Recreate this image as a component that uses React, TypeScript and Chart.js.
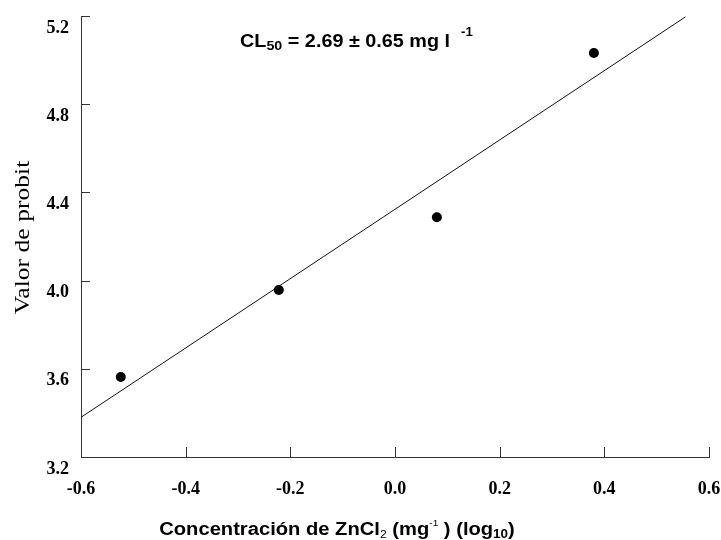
import React, { useEffect, useRef } from "react";
import { Chart, registerables } from "chart.js";

Chart.register(...registerables);

// Observed data (log10 concentration vs probit value)
const logConc = [-0.524, -0.222, 0.08, 0.38];
const probit = [3.563, 3.957, 4.287, 5.032];

// Fitted regression line end points
const fitX = [-0.6, 0.555];
const fitY = [3.38, 5.196];

// Tick labels
const xTickLabels = ["-0.6", "-0.4", "-0.2", "0.0", "0.2", "0.4", "0.6"];
const yTickLabels = ["3.2", "3.6", "4.0", "4.4", "4.8", "5.2"];

const SANS = "'Liberation Sans', Arial, sans-serif";
const SERIF = "'Liberation Serif', 'Times New Roman', serif";

type Seg = { text: string; size: number; weight?: string; dy?: number };

function richWidth(ctx: CanvasRenderingContext2D, segs: Seg[], family: string) {
  let w = 0;
  for (const s of segs) {
    ctx.font = `${s.weight || "bold"} ${s.size}px ${family}`;
    w += ctx.measureText(s.text).width;
  }
  return w;
}

function drawRich(
  ctx: CanvasRenderingContext2D,
  segs: Seg[],
  family: string,
  x: number,
  y: number,
  stretch: number
) {
  ctx.save();
  ctx.translate(x, y);
  ctx.scale(stretch, 1);
  let cx = 0;
  for (const s of segs) {
    ctx.font = `${s.weight || "bold"} ${s.size}px ${family}`;
    ctx.fillText(s.text, cx, s.dy || 0);
    cx += ctx.measureText(s.text).width;
  }
  ctx.restore();
}

const xTitle: Seg[] = [
  { text: "Concentración de ZnCl", size: 18 },
  { text: "2", size: 11, weight: "normal", dy: 3 },
  { text: " (mg", size: 18 },
  { text: "-1", size: 9, weight: "normal", dy: -9 },
  { text: " ) (log", size: 18 },
  { text: "10", size: 12, dy: 3 },
  { text: ")", size: 18 },
];

const annotation: Seg[] = [
  { text: "CL", size: 18 },
  { text: "50", size: 13, dy: 3 },
  { text: " = 2.69 ± 0.65 mg l  ", size: 18 },
  { text: "-1", size: 12, dy: -11 },
];

const decorPlugin = {
  id: "decor",
  afterDraw(chart: any) {
    const ctx: CanvasRenderingContext2D = chart.ctx;
    const xs = chart.scales.x;
    const ys = chart.scales.y;
    const area = chart.chartArea;
    ctx.save();
    // inward tick marks
    ctx.strokeStyle = "#333";
    ctx.lineWidth = 1;
    ctx.beginPath();
    xs.ticks.forEach((t: any) => {
      const px = Math.round(xs.getPixelForValue(t.value)) + 0.5;
      ctx.moveTo(px, area.bottom);
      ctx.lineTo(px, area.bottom - 10);
    });
    ys.ticks.forEach((t: any) => {
      const py = Math.round(ys.getPixelForValue(t.value)) + 0.5;
      ctx.moveTo(area.left, py);
      ctx.lineTo(area.left + 9, py);
    });
    ctx.stroke();

    ctx.fillStyle = "#000";
    ctx.textBaseline = "alphabetic";
    ctx.textAlign = "left";

    // x axis title (centered around x=337)
    const st = 1.12;
    const w = richWidth(ctx, xTitle, SANS) * st;
    drawRich(ctx, xTitle, SANS, 337 - w / 2, 535, st);

    // annotation
    drawRich(ctx, annotation, SANS, 240, 47, 1.1);

    // y axis title
    ctx.save();
    ctx.translate(29, 237.5);
    ctx.rotate(-Math.PI / 2);
    ctx.scale(1.22, 1);
    ctx.font = `normal 21px ${SERIF}`;
    ctx.textAlign = "center";
    ctx.fillText("Valor de probit", 0, 0);
    ctx.restore();

    ctx.restore();
  },
};

export default function App() {
  const ref = useRef<HTMLCanvasElement>(null);

  useEffect(() => {
    if (!ref.current) return;
    const chart = new Chart(ref.current, {
      type: "scatter",
      data: {
        datasets: [
          {
            label: "fit",
            data: fitX.map((x, i) => ({ x, y: fitY[i] })),
            showLine: true,
            borderColor: "#111",
            borderWidth: 1,
            pointRadius: 0,
            fill: false,
          },
          {
            label: "obs",
            data: logConc.map((x, i) => ({ x, y: probit[i] })),
            showLine: false,
            pointRadius: 5,
            pointBackgroundColor: "#000",
            pointBorderColor: "#000",
            pointBorderWidth: 0,
          },
        ],
      },
      options: {
        responsive: false,
        animation: false,
        layout: { padding: 0 },
        plugins: { legend: { display: false }, tooltip: { enabled: false } },
        scales: {
          x: {
            type: "linear",
            min: -0.6,
            max: 0.6,
            grid: { display: false, drawTicks: false },
            border: { display: true, color: "#333", width: 1 },
            ticks: {
              stepSize: 0.2,
              padding: 22,
              color: "#000",
              font: { family: SERIF, size: 18, weight: "bold" },
              maxRotation: 0,
              callback: (_v: any, i: number) => xTickLabels[i],
            },
            afterFit: (s: any) => {
              s.height = 83;
              s.paddingRight = 12;
              s.paddingLeft = 0;
            },
          },
          y: {
            type: "linear",
            min: 3.2,
            max: 5.2,
            grid: { display: false, drawTicks: false },
            border: { display: true, color: "#333", width: 1 },
            ticks: {
              stepSize: 0.4,
              padding: 12,
              labelOffset: 12,
              color: "#000",
              font: { family: SERIF, size: 18, weight: "bold" },
              callback: (_v: any, i: number) => yTickLabels[i],
            },
            afterFit: (s: any) => {
              s.width = 81;
              s.paddingTop = 16;
              s.paddingBottom = 0;
            },
          },
        },
      },
      plugins: [decorPlugin],
    });
    return () => chart.destroy();
  }, []);

  return (
    <div style={{ position: "fixed", left: 0, top: 0, width: 721, height: 540, background: "#fff" }}>
      <canvas ref={ref} width={721} height={540} style={{ display: "block" }} />
    </div>
  );
}
